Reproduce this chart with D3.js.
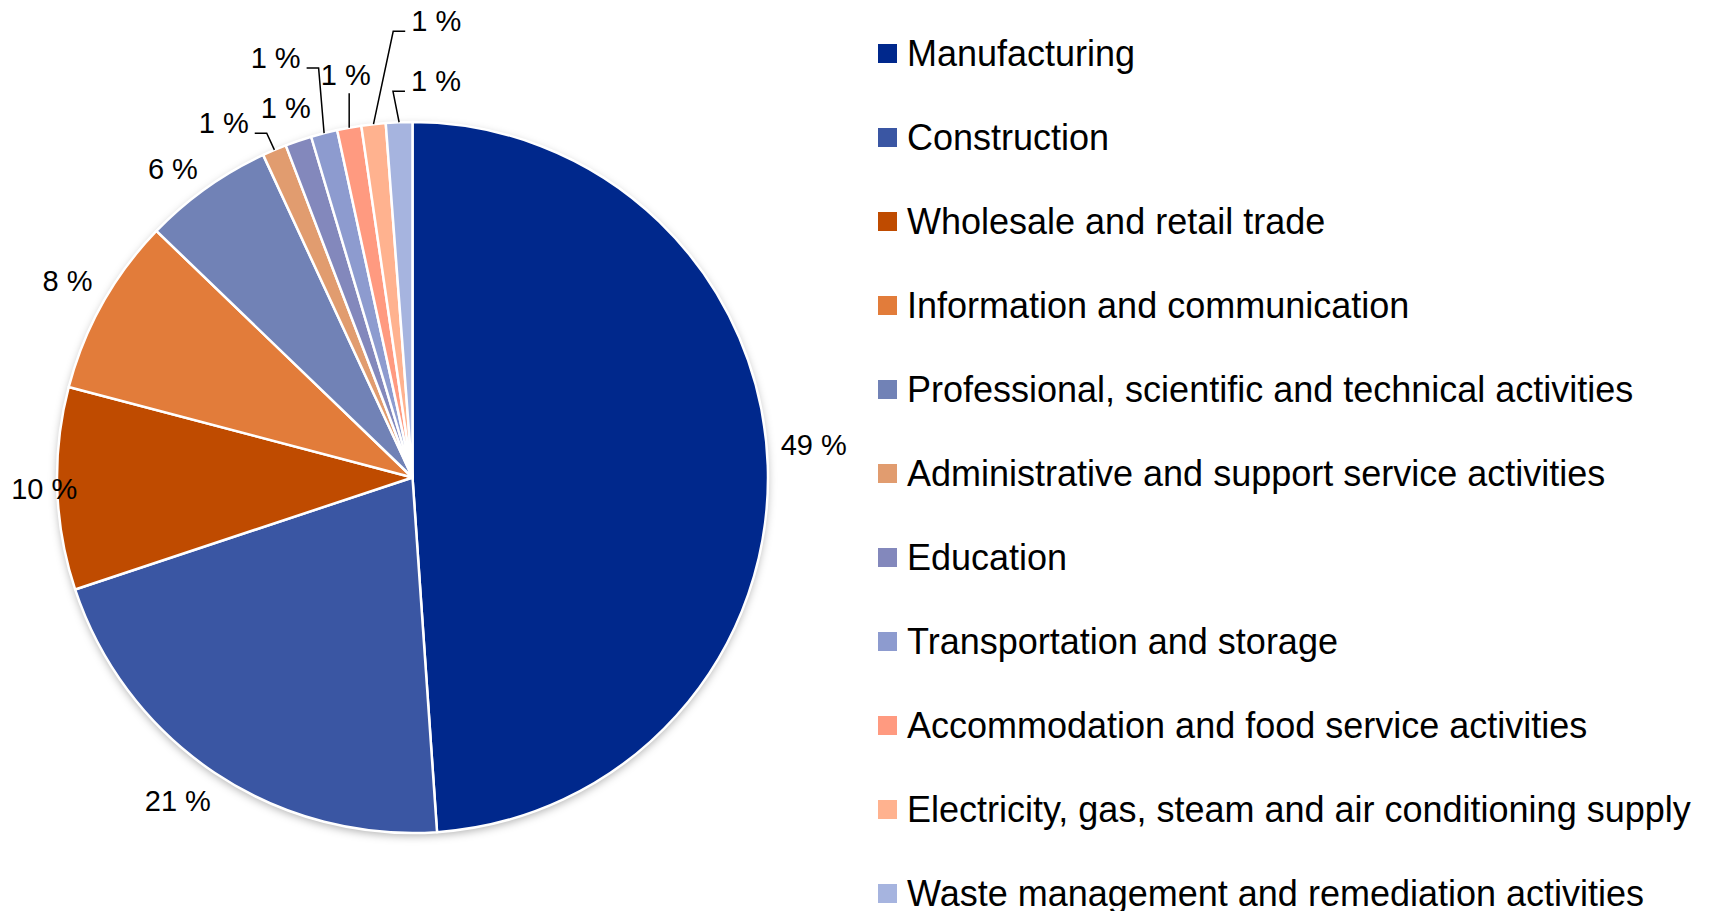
<!DOCTYPE html>
<html>
<head>
<meta charset="utf-8">
<script src="https://cdn.jsdelivr.net/npm/d3@7"></script>
<style>
	html, body { margin: 0; padding: 0; background: #fff; overflow: hidden; }
	svg { display: block; }
</style>
</head>
<body>
<div id="chart"></div>
<script>
// sectors, shares (percent)
var categories = [
	"Manufacturing",
	"Construction",
	"Wholesale and retail trade",
	"Information and communication",
	"Professional, scientific and technical activities",
	"Administrative and support service activities",
	"Education",
	"Transportation and storage",
	"Accommodation and food service activities",
	"Electricity, gas, steam and air conditioning supply",
	"Waste management and remediation activities"
];
var shares = [48.9, 21.0, 9.2, 8.1, 5.9, 1.1, 1.2, 1.2, 1.1, 1.1, 1.2];
var shareLabels = ["49 %", "21 %", "10 %", "8 %", "6 %", "1 %", "1 %", "1 %", "1 %", "1 %", "1 %"];
var colors = [
	"#00288c", "#3a56a3", "#bf4b00", "#e27c3a", "#7182b6", "#e19c6f",
	"#8388bc", "#8d9bcf", "#ff9a80", "#ffb28f", "#a6b4df"
];

var width = 1719, height = 911;
var cx = 412.5, cy = 477.5, radius = 355.5;
var fontFamily = "'Liberation Sans', Arial, sans-serif";

// label placement: pushed outward from the slice, then nudged (Excel style)
var labelGap = 30;
var labelNudge = [[16, -20], [-20, 3], [17, -1], [-9, -8], [-16, 5], [-39, 0],
	[-3, -5], [-41, -47], [2, -24], [66, -74], [38, -12]];
var withLeader = [false, false, false, false, false, true, false, true, true, true, true];

var data = categories.map(function(c, i) {
	return { name: c, value: shares[i], label: shareLabels[i], color: colors[i], i: i };
});

var svg = d3.select("#chart").append("svg")
	.attr("width", width)
	.attr("height", height)
	.style("font-family", fontFamily);

var defs = svg.append("defs");
var shadow = defs.append("filter")
	.attr("id", "pie-shadow")
	.attr("x", "-10%").attr("y", "-10%")
	.attr("width", "120%").attr("height", "120%");
shadow.append("feDropShadow")
	.attr("dx", 0).attr("dy", 3)
	.attr("stdDeviation", 4)
	.attr("flood-color", "#000")
	.attr("flood-opacity", 0.3);

var pie = d3.pie()
	.value(function(d) { return d.value; })
	.sort(null);
var arcs = pie(data);

var arc = d3.arc().innerRadius(0).outerRadius(radius);

var g = svg.append("g")
	.attr("transform", "translate(" + cx + "," + cy + ")");

// shadow disc under the slices
g.append("circle")
	.attr("r", radius)
	.attr("fill", "#fff")
	.attr("filter", "url(#pie-shadow)");

g.selectAll(".slice")
	.data(arcs).enter()
	.append("path")
		.attr("class", "slice")
		.attr("d", arc)
		.attr("fill", function(a) { return a.data.color; })
		.attr("stroke", "#fff")
		.attr("stroke-width", 2.5)
		.attr("stroke-linejoin", "round");

function polar(angle, r) {
	return [r * Math.sin(angle), -r * Math.cos(angle)];
}

var labels = g.selectAll(".pie-label")
	.data(arcs).enter()
	.append("text")
		.attr("class", "pie-label")
		.attr("text-anchor", "middle")
		.attr("dy", "0.36em")
		.attr("fill", "#000")
		.style("font-size", "29px")
		.each(function(a) {
			var mid = (a.startAngle + a.endAngle) / 2;
			var p = polar(mid, radius + labelGap);
			a.lx = p[0] + labelNudge[a.index][0];
			a.ly = p[1] + labelNudge[a.index][1];
			a.edge = polar(mid, radius);
		})
		.attr("x", function(a) { return a.lx; })
		.attr("y", function(a) { return a.ly; })
		.text(function(a) { return a.data.label; });

// leader lines for the crowded small slices
labels.each(function(a) {
	if(!withLeader[a.index]) { return; }
	var box = this.getBBox();
	var hw = box.width / 2 + 6;
	var pts;
	if(Math.abs(a.edge[0] - a.lx) < 10) {
		pts = [[a.edge[0], a.ly + 19], a.edge];
	} else {
		var side = a.edge[0] > a.lx ? 1 : -1;
		var attach = [a.lx + side * hw, a.ly + 11];
		var elbow = [attach[0] + side * 12, attach[1]];
		pts = [attach, elbow, a.edge];
	}
	g.append("path")
		.attr("d", d3.line()(pts))
		.attr("fill", "none")
		.attr("stroke", "#000")
		.attr("stroke-width", 1.5);
});

// legend
var legendX = 878, legendY = 53.5, legendStep = 84, markerSize = 19;
var legend = svg.append("g").attr("class", "legend");
var items = legend.selectAll(".legend-item")
	.data(data).enter()
	.append("g")
		.attr("class", "legend-item")
		.attr("transform", function(d, i) {
			return "translate(" + legendX + "," + (legendY + i * legendStep) + ")";
		});
items.append("rect")
	.attr("x", 0)
	.attr("y", -markerSize / 2)
	.attr("width", markerSize)
	.attr("height", markerSize)
	.attr("fill", function(d) { return d.color; });
items.append("text")
	.attr("x", 29)
	.attr("y", 12)
	.attr("fill", "#000")
	.style("font-size", "36px")
	.text(function(d) { return d.name; });
</script>
</body>
</html>
